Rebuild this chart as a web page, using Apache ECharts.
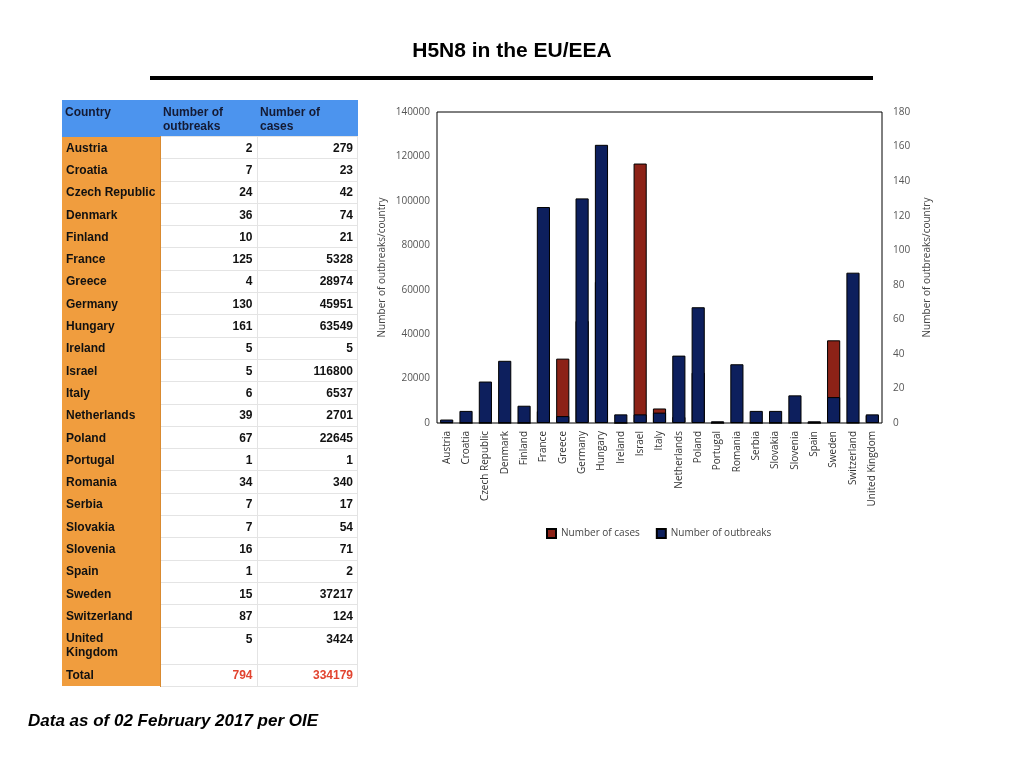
<!DOCTYPE html>
<html>
<head>
<meta charset="utf-8">
<title>H5N8 in the EU/EEA</title>
<script src="https://cdn.jsdelivr.net/npm/echarts@6/dist/echarts.min.js"></script>
<style>
  html, body { margin: 0; padding: 0; background: #fff; }
  #wrap { width: 1024px; height: 768px; position: relative; }
  #main { width: 1024px; height: 768px; position: absolute; left: 0; top: 0; }
  #tbl {
    position: absolute; left: 62px; top: 100px; width: 296px; z-index: 10;
    border-collapse: collapse; font-family: "Liberation Sans", Arial, sans-serif;
    font-size: 12px; font-weight: bold; color: #111;
  }
  #tbl th { background: #4c94ee; text-align: left; vertical-align: top; padding: 5px 3px 0 3px; height: 31px; font-weight: bold; color: #141a33; }
  #tbl td { height: 21.3px; padding: 0 4px; border: 1px solid #e4e4e4; }
  #tbl td.c { background: #f09d3e; border: none; border-right: 1px solid #d98a30; padding-left: 4px; }
  #tbl td.n { text-align: right; background: #fff; }
  #tbl tr.tall td { height: 32px; vertical-align: top; padding-top: 4px; }
  #tbl td.tot { color: #e2432f; font-weight: bold; }
</style>
</head>
<body>
<div id="wrap">
  <div id="main"></div>
</div>
<script>
'use strict';

var countries = ['Austria', 'Croatia', 'Czech Republic', 'Denmark', 'Finland', 'France', 'Greece',
    'Germany', 'Hungary', 'Ireland', 'Israel', 'Italy', 'Netherlands', 'Poland', 'Portugal',
    'Romania', 'Serbia', 'Slovakia', 'Slovenia', 'Spain', 'Sweden', 'Switzerland', 'United Kingdom'];
var outbreaks = [2, 7, 24, 36, 10, 125, 4, 130, 161, 5, 5, 6, 39, 67, 1, 34, 7, 7, 16, 1, 15, 87, 5];
var cases = [279, 23, 42, 74, 21, 5328, 28974, 45951, 63549, 5, 116800, 6537, 2701, 22645, 1,
    340, 17, 54, 71, 2, 37217, 124, 3424];
var totalOutbreaks = 794;
var totalCases = 334179;
var leftTicks = [0, 140000, 20000];
var rightTicks = [0, 180, 20];

var myChart = echarts.init(document.getElementById('main'));
var axisFont = 'Open Sans';
var option = {
    animation: false,
    title: [{
        text: 'H5N8 in the EU/EEA',
        left: 'center',
        top: 36,
        textStyle: { fontFamily: 'Liberation Sans', fontSize: 21, fontWeight: 'bold', color: '#000' }
    }, {
        text: 'Data as of 02 February 2017 per OIE',
        left: 23,
        top: 708,
        textStyle: { fontFamily: 'Liberation Sans', fontSize: 17, fontWeight: 'bold', fontStyle: 'italic', color: '#000' }
    }],
    graphic: [{
        type: 'rect',
        shape: { x: 150, y: 76, width: 723, height: 4 },
        style: { fill: '#000' }
    }],
    legend: {
        data: ['Number of cases', 'Number of outbreaks'],
        left: 541,
        top: 523,
        itemWidth: 9,
        itemHeight: 9,
        itemGap: 16,
        icon: 'rect',
        textStyle: { fontFamily: axisFont, fontSize: 10, color: '#444' }
    },
    grid: {
        left: 437,
        right: 142,
        top: 112,
        bottom: 345,
        show: true,
        borderColor: '#000',
        borderWidth: 1
    },
    xAxis: [{
        type: 'category',
        data: countries,
        axisLine: { show: false },
        axisTick: { show: false },
        axisLabel: { rotate: 90, interval: 0, margin: 8, fontFamily: axisFont, fontSize: 10, color: '#333' }
    }],
    yAxis: [{
        type: 'value',
        min: leftTicks[0],
        max: leftTicks[1],
        interval: leftTicks[2],
        name: 'Number of outbreaks/country',
        nameLocation: 'middle',
        nameGap: 50,
        nameTextStyle: { fontFamily: axisFont, fontSize: 10, color: '#444' },
        splitLine: { show: false },
        axisLine: { show: false },
        axisTick: { show: false },
        axisLabel: {
            margin: 7, fontFamily: axisFont, fontSize: 10, color: '#555',
            formatter: function(v) { return String(v); }
        }
    }, {
        type: 'value',
        min: rightTicks[0],
        max: rightTicks[1],
        interval: rightTicks[2],
        name: 'Number of outbreaks/country',
        nameLocation: 'middle',
        nameGap: 40,
        nameTextStyle: { fontFamily: axisFont, fontSize: 10, color: '#444' },
        splitLine: { show: false },
        axisLine: { show: false },
        axisTick: { show: false },
        axisLabel: { margin: 11, fontFamily: axisFont, fontSize: 10, color: '#555' }
    }],
    series: [{
        name: 'Number of cases',
        type: 'bar',
        yAxisIndex: 0,
        z: 2,
        barCategoryGap: '32%',
        data: cases,
        itemStyle: { color: '#8c2217', borderColor: '#000', borderWidth: 1 }
    }, {
        name: 'Number of outbreaks',
        type: 'bar',
        yAxisIndex: 1,
        z: 3,
        barGap: '-100%',
        data: outbreaks,
        itemStyle: { color: '#0d1f5d', borderColor: '#000', borderWidth: 1 }
    }]
};
myChart.setOption(option);

// data table on the left, built from the same arrays
var html = '<tr><th style="width:92px">Country</th><th style="width:91px">Number of<br>outbreaks</th><th>Number of<br>cases</th></tr>';
countries.forEach(function(c, i) {
    var name = c === 'United Kingdom' ? 'United<br>Kingdom' : c;
    var cls = c === 'United Kingdom' ? ' class="tall"' : '';
    html += '<tr' + cls + '><td class="c">' + name + '</td><td class="n">' + outbreaks[i] +
        '</td><td class="n">' + cases[i] + '</td></tr>';
});
html += '<tr><td class="c">Total</td><td class="n tot">' + totalOutbreaks +
    '</td><td class="n tot">' + totalCases + '</td></tr>';
var tbl = document.createElement('table');
tbl.id = 'tbl';
tbl.innerHTML = html;
document.getElementById('wrap').appendChild(tbl);
</script>
</body>
</html>
